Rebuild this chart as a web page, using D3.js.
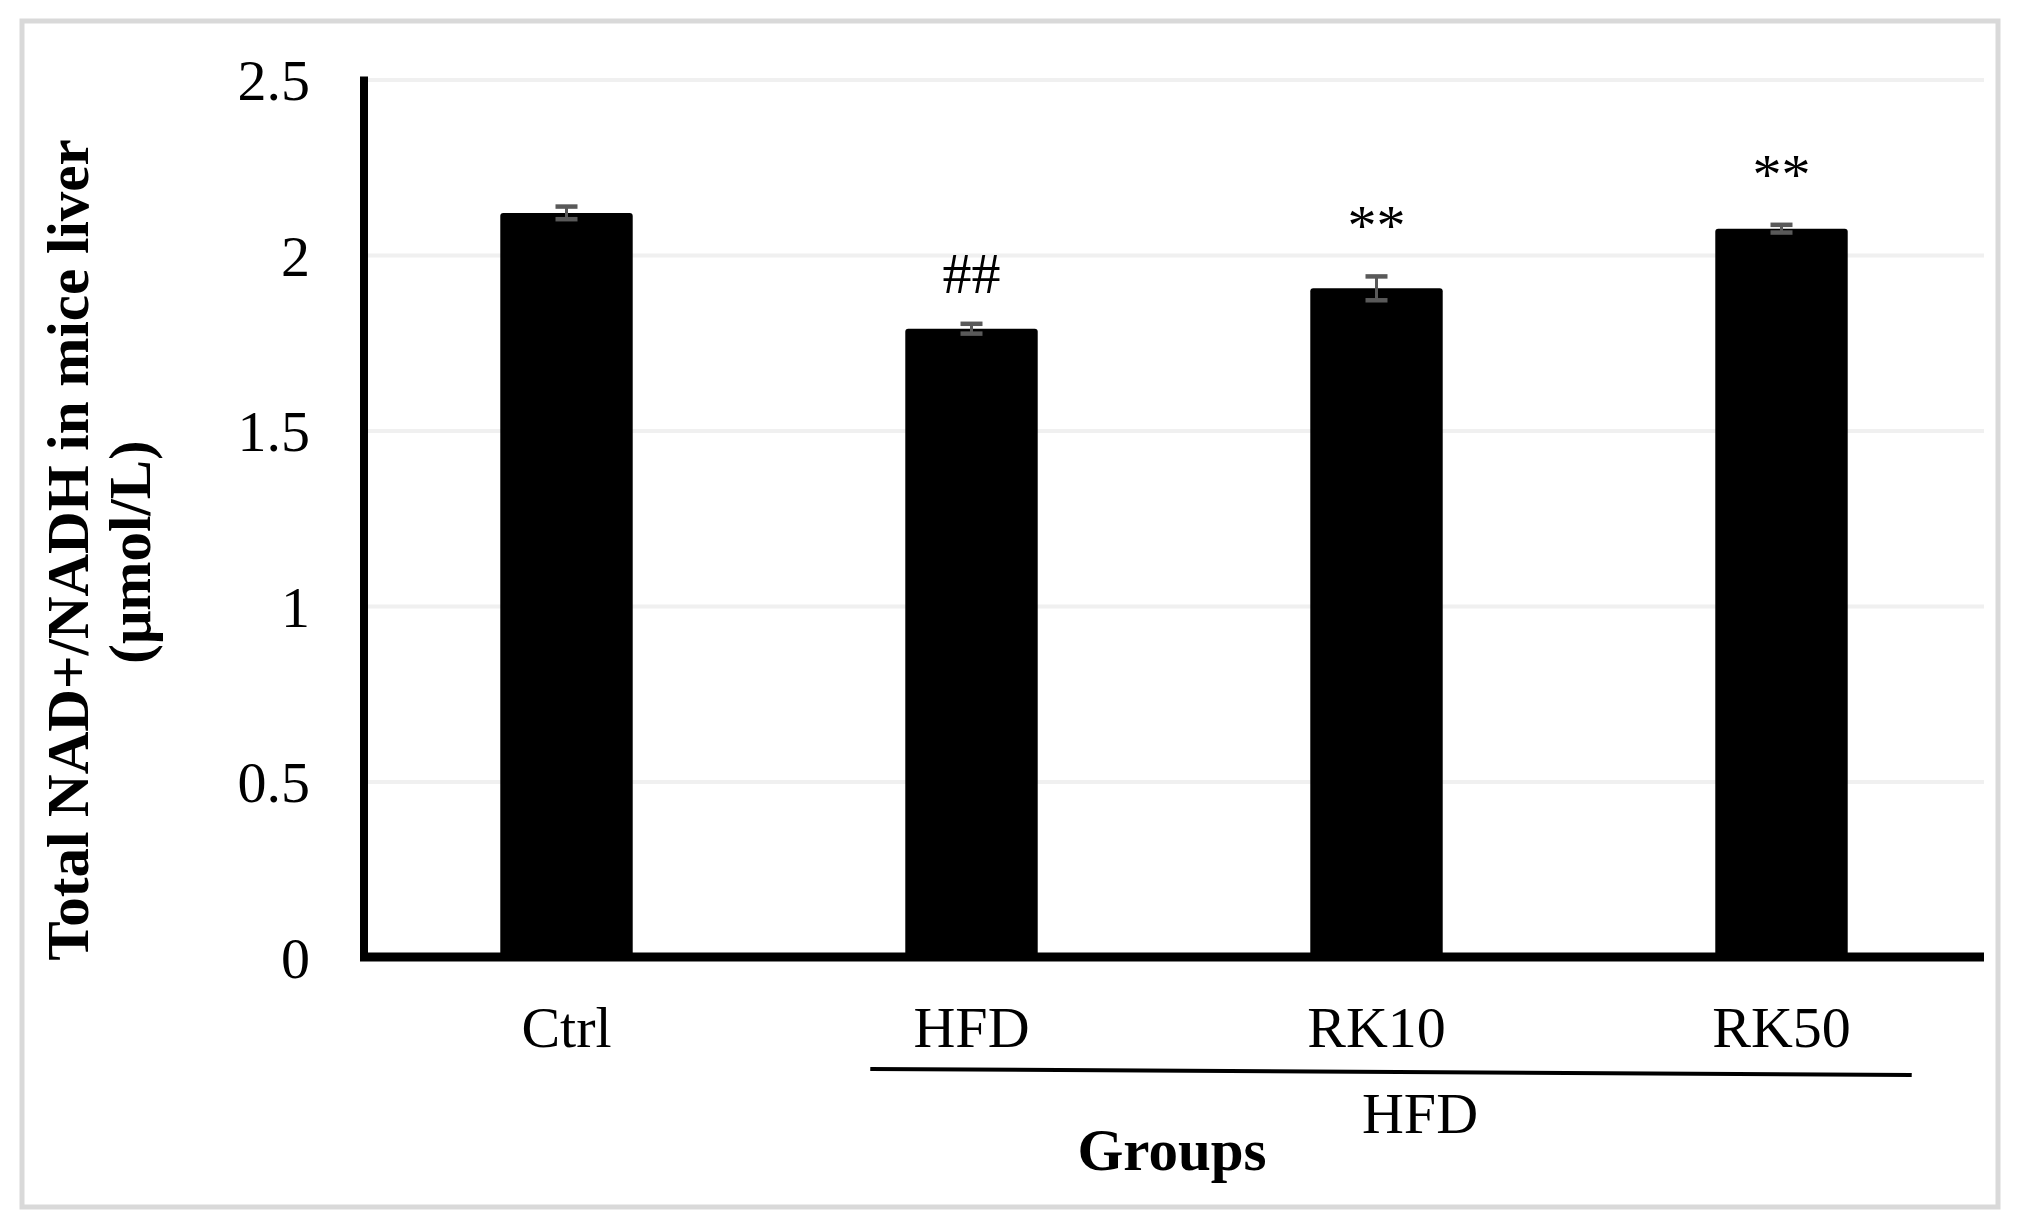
<!DOCTYPE html>
<html>
<head>
<meta charset="utf-8">
<script src="https://cdn.jsdelivr.net/npm/d3@7"></script>
<style>
  body { margin: 0; background: #fff; }
  text { font-family: "Liberation Serif", "Times New Roman", serif; fill: #000; }
</style>
</head>
<body>
<svg width="2022" height="1227"></svg>
<script>
// data
var groups = ['Ctrl', 'HFD', 'RK10', 'RK50'];
var means = [2.12, 1.79, 1.905, 2.075];
var errors = [0.018, 0.014, 0.034, 0.011];
var marks = ['', '##', '**', '**'];
var yTicks = [0, 0.5, 1, 1.5, 2, 2.5];
var bracketGroups = ['HFD', 'RK50'];
var bracketLabel = 'HFD';
var yTitle = ['Total NAD+/NADH in mice liver', '(\u03bcmol/L)'];
var xTitle = 'Groups';

var svg = d3.select('svg');

// frame
svg.append('rect')
    .attr('x', 22)
    .attr('y', 21)
    .attr('width', 1976)
    .attr('height', 1186)
    .style('fill', 'white')
    .style('stroke', '#d9d9d9')
    .style('stroke-width', 5);

var x = d3.scaleBand()
    .domain(groups)
    .range([364, 1984])
    .paddingInner(0.673)
    .paddingOuter(0.3365);

var y = d3.scaleLinear()
    .domain([0, 2.5])
    .range([957, 79.5]);

// gridlines
var grid = svg.append('g')
    .attr('transform', 'translate(364,0)')
    .call(d3.axisLeft(y).tickValues(yTicks).tickSize(-1620).tickFormat(''));
grid.select('.domain').remove();
grid.selectAll('line')
    .style('stroke', '#f0f0f0')
    .style('stroke-width', 4);

// bars
svg.selectAll('.bar')
    .data(groups)
    .enter()
    .append('rect')
    .attr('class', 'bar')
    .attr('x', function(d){ return x(d); })
    .attr('y', function(d, i){ return y(means[i]); })
    .attr('width', x.bandwidth())
    .attr('height', function(d, i){ return y(0) - y(means[i]); })
    .attr('rx', 3)
    .style('fill', 'black');

// error bars
var eb = svg.selectAll('.err')
    .data(groups)
    .enter()
    .append('g')
    .attr('class', 'err')
    .style('stroke', '#595959');

eb.append('line')
    .attr('x1', function(d){ return x(d) + x.bandwidth() / 2; })
    .attr('x2', function(d){ return x(d) + x.bandwidth() / 2; })
    .attr('y1', function(d, i){ return y(means[i] + errors[i]); })
    .attr('y2', function(d, i){ return y(means[i] - errors[i]); })
    .style('stroke-width', 3);

eb.selectAll('.cap')
    .data(function(d, i){ return [[d, means[i] + errors[i]], [d, means[i] - errors[i]]]; })
    .enter()
    .append('line')
    .attr('class', 'cap')
    .attr('x1', function(c){ return x(c[0]) + x.bandwidth() / 2 - 11; })
    .attr('x2', function(c){ return x(c[0]) + x.bandwidth() / 2 + 11; })
    .attr('y1', function(c){ return y(c[1]); })
    .attr('y2', function(c){ return y(c[1]); })
    .style('stroke-width', 4.5);

// significance marks
svg.selectAll('.mark')
    .data(groups)
    .enter()
    .append('text')
    .attr('class', 'mark')
    .attr('x', function(d){ return x(d) + x.bandwidth() / 2; })
    .attr('y', function(d, i){ return y(means[i] + errors[i]) - 31; })
    .attr('text-anchor', 'middle')
    .style('font-size', '58px')
    .text(function(d, i){ return marks[i]; });

// y tick labels
var yAxis = svg.append('g')
    .attr('transform', 'translate(364,0)')
    .call(d3.axisLeft(y).tickValues(yTicks).tickSize(0).tickPadding(54).tickFormat(d3.format('')));
yAxis.select('.domain').remove();
yAxis.selectAll('text')
    .style('font-size', '58px')
    .style('font-family', '"Liberation Serif", "Times New Roman", serif')
    .attr('dy', '0.35em');

// x tick labels
var xAxis = svg.append('g')
    .attr('transform', 'translate(0,' + y(0) + ')')
    .call(d3.axisBottom(x).tickSize(0));
xAxis.select('.domain').remove();
xAxis.selectAll('text')
    .attr('y', 90)
    .attr('dy', 0)
    .style('font-size', '58px')
    .style('font-family', '"Liberation Serif", "Times New Roman", serif');

// axis lines
svg.append('line')
    .attr('x1', 364)
    .attr('x2', 364)
    .attr('y1', y(2.5) - 3)
    .attr('y2', y(0) + 4)
    .style('stroke', 'black')
    .style('stroke-width', 8);

svg.append('line')
    .attr('x1', 360)
    .attr('x2', x.range()[1])
    .attr('y1', y(0))
    .attr('y2', y(0))
    .style('stroke', 'black')
    .style('stroke-width', 9);

// HFD bracket under the treated groups
svg.append('line')
    .attr('x1', x(bracketGroups[0]) - 35)
    .attr('x2', x(bracketGroups[1]) + x.bandwidth() + 64)
    .attr('y1', 1069)
    .attr('y2', 1075)
    .style('stroke', 'black')
    .style('stroke-width', 4);

svg.append('text')
    .attr('x', 1420)
    .attr('y', 1133)
    .attr('text-anchor', 'middle')
    .style('font-size', '58px')
    .text(bracketLabel);

// axis titles
svg.append('text')
    .attr('x', 1172)
    .attr('y', 1170)
    .attr('text-anchor', 'middle')
    .style('font-size', '59px')
    .style('font-weight', 'bold')
    .text(xTitle);

svg.append('text')
    .attr('transform', 'translate(88,550) rotate(-90)')
    .attr('text-anchor', 'middle')
    .style('font-size', '59px')
    .style('font-weight', 'bold')
    .text(yTitle[0]);

svg.append('text')
    .attr('transform', 'translate(150,552) rotate(-90)')
    .attr('text-anchor', 'middle')
    .style('font-size', '59px')
    .style('font-weight', 'bold')
    .text(yTitle[1]);
</script>
</body>
</html>
